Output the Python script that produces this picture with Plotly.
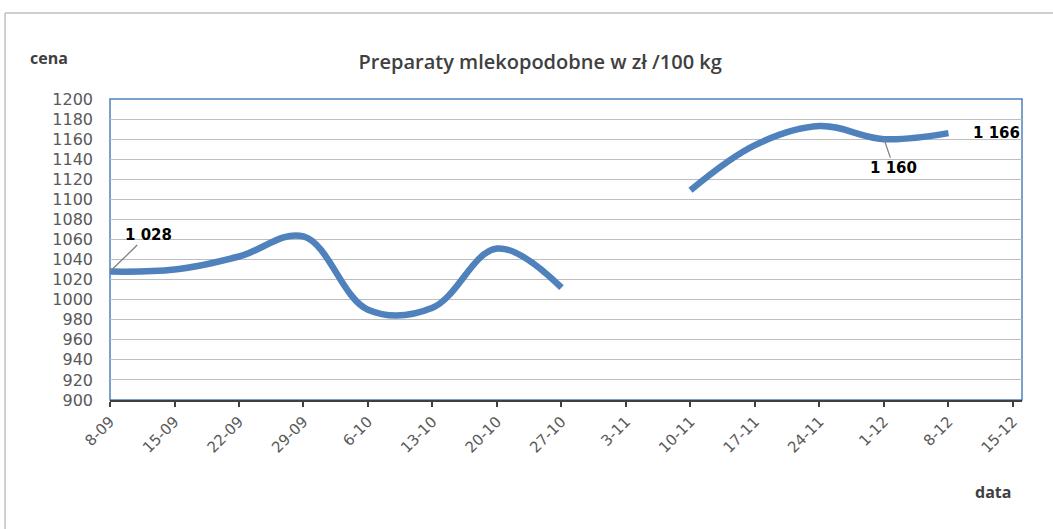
import plotly.graph_objects as go

# ---- data ----
categories = ["8-09", "15-09", "22-09", "29-09", "6-10", "13-10", "20-10", "27-10",
              "3-11", "10-11", "17-11", "24-11", "1-12", "8-12", "15-12"]
prices = [1028, 1030, 1043, 1063, 990, 992, 1051, 1012,
          None, 1109, 1154, 1173, 1160, 1166, None]
y_ticks = list(range(900, 1201, 20))
title_text = "Preparaty mlekopodobne w zł /100 kg"
y_label = "cena"
x_label = "data"

BLUE = "#4F81BD"
FONT = "Open Sans"
NUMFONT = "DejaVu Sans"

fig = go.Figure()
fig.add_trace(go.Scatter(
    x=categories, y=prices, mode="lines",
    line=dict(color=BLUE, width=6.5, shape="spline", smoothing=1.05),
    connectgaps=False, hoverinfo="skip", showlegend=False,
))

# data labels
lab_font = dict(family=NUMFONT, size=15, color="#000000", weight="bold")
fig.add_annotation(x=categories[0], y=prices[0], text="1 028",
                   showarrow=True, arrowhead=0, arrowwidth=1.3, arrowcolor="#808080",
                   ax=38, ay=-37, font=lab_font)
fig.add_annotation(x=categories[12], y=prices[12], text="1 160",
                   showarrow=True, arrowhead=0, arrowwidth=1.3, arrowcolor="#808080",
                   ax=10, ay=29, font=lab_font)
fig.add_annotation(x=categories[13], y=prices[13], text="1 166",
                   showarrow=False, xshift=48, font=lab_font)

# axis titles
fig.add_annotation(xref="paper", yref="paper", x=-0.0669, y=1.136, text=y_label,
                   xanchor="center", yanchor="middle",
                   showarrow=False, font=dict(family=FONT, size=16, color="#404040", weight="bold"))
fig.add_annotation(xref="paper", yref="paper", x=0.968, y=-0.3056, text=x_label,
                   xanchor="center", yanchor="middle",
                   showarrow=False, font=dict(family=FONT, size=16, color="#404040", weight="bold"))

# plot-area border (blue) and outer chart border (gray)
fig.add_shape(type="rect", xref="paper", yref="paper", x0=0, x1=1, y0=0, y1=1,
              line=dict(color=BLUE, width=1.5), layer="below")
fig.add_shape(type="line", xref="paper", yref="paper", x0=-0.1151, x1=1.05, y0=1.2857, y1=1.2857,
              line=dict(color="#BFBFBF", width=1.5))
fig.add_shape(type="line", xref="paper", yref="paper", x0=-0.1151, x1=-0.1151, y0=-0.5, y1=1.2857,
              line=dict(color="#BFBFBF", width=1.5))

fig.update_layout(
    width=1053, height=529,
    margin=dict(l=110, r=31, t=99, b=129),
    paper_bgcolor="white", plot_bgcolor="white",
    title=dict(text=title_text, x=0.513, xanchor="center", y=0.883, yanchor="middle",
               font=dict(family=FONT, size=20, color="#404040", weight=600)),
    font=dict(family=FONT, color="#595959"),
)
fig.update_xaxes(
    type="category", range=[0, 14.14],
    tickvals=categories, ticktext=categories, tickangle=-45,
    tickfont=dict(family=NUMFONT, size=15, color="#595959"),
    showgrid=False, showline=True, linecolor="#404040", linewidth=2,
    ticks="outside", ticklen=5, tickwidth=2, tickcolor="#404040",
    zeroline=False,
)
fig.update_yaxes(
    range=[900, 1200], tickvals=y_ticks,
    tickfont=dict(family=NUMFONT, size=16, color="#595959"),
    showgrid=True, gridcolor="#BDBDBD", gridwidth=1.3,
    showline=False, ticks="", ticklabelstandoff=16, zeroline=False,
)

fig.write_html("out.html", config={"displayModeBar": False},
               post_script="document.body.style.margin='0';")
